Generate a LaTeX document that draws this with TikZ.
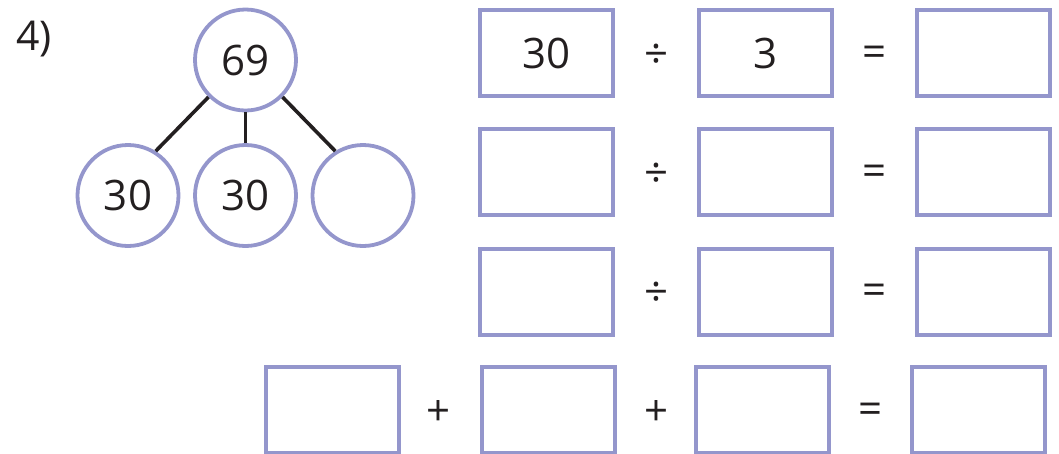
\documentclass[tikz,border=0pt]{standalone}
\usepackage{fontspec}
\setmainfont{Open Sans}
\definecolor{lav}{RGB}{148,150,204}
\definecolor{ink}{RGB}{35,31,32}
\begin{document}
\begin{tikzpicture}[x=1pt,y=-1pt,
  bubble/.style={circle,draw=lav,line width=3.8pt,minimum size=101pt,inner sep=0pt,text=ink,font=\fontsize{42}{42}\selectfont},
  answerbox/.style={rectangle,draw=lav,line width=4pt,minimum width=133pt,minimum height=86pt,inner sep=0pt,text=ink,font=\fontsize{42}{42}\selectfont},
  op/.style={text=ink,inner sep=0pt,yshift=-3pt,font=\fontsize{42}{42}\selectfont},
  link/.style={draw=ink,line width=3.6pt}]
\useasboundingbox (0,0) rectangle (1059,453);
\node[anchor=base west,inner sep=0pt,text=ink,font=\fontsize{41}{41}\selectfont] (lab) at (16,50) {4)};
% part-whole model
\node[bubble] (top) at (245.5,60) {69};
\node[bubble] (c1) at (128,195.5) {30};
\node[bubble] (c2) at (245.5,195.5) {30};
\node[bubble] (c3) at (363,195.5) {};
\draw[link] (top.225) -- (c1.58);
\draw[link] (top.south) -- (c2.north);
\draw[link] (top.-45) -- (c3.122);
% division rows
\node[answerbox] (a1) at (546.5,53) {30};
\node[op] (d1) at (656,53) {÷};
\node[answerbox] (b1) at (765,53) {3};
\node[op] (e1) at (874,53) {=};
\node[answerbox] (r1) at (983.5,53) {};
\node[answerbox] (a2) at (546.5,172) {};
\node[op] (d2) at (656,172) {÷};
\node[answerbox] (b2) at (765,172) {};
\node[op] (e2) at (874,172) {=};
\node[answerbox] (r2) at (983.5,172) {};
\node[answerbox] (a3) at (546.5,291.5) {};
\node[op] (d3) at (656,291.5) {÷};
\node[answerbox] (b3) at (765,291.5) {};
\node[op] (e3) at (874,291.5) {=};
\node[answerbox] (r3) at (983.5,291.5) {};
% addition row
\node[answerbox] (s1) at (332,410) {};
\node[op] (p1) at (439,410) {+};
\node[answerbox] (s2) at (548,410) {};
\node[op] (p2) at (656,410) {+};
\node[answerbox] (s3) at (762.5,410) {};
\node[op] (e4) at (870,410) {=};
\node[answerbox] (s4) at (978,410) {};
\end{tikzpicture}
\end{document}
